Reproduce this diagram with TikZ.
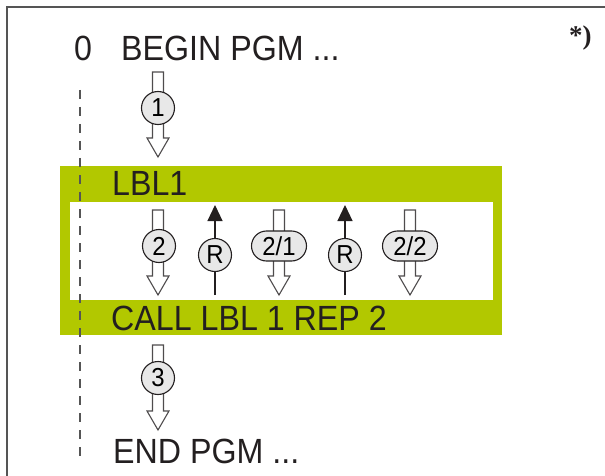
\documentclass[tikz,border=0pt]{standalone}
\usepackage{fontspec}
\setmainfont{Liberation Sans}[FakeStretch=0.92]
\newfontfamily\notefont{Liberation Serif}
\usetikzlibrary{arrows.meta,positioning,calc,shapes.misc}
\definecolor{lblgreen}{RGB}{178,200,0}
\definecolor{inkcolor}{RGB}{35,31,32}
\definecolor{framecolor}{RGB}{85,85,85}
\definecolor{bubblecolor}{RGB}{232,232,232}

\tikzset{
  blocktext/.style={anchor=base west,inner sep=0pt,text=inkcolor,font=\fontsize{35}{35}\selectfont},
  stepnum/.style={circle,draw=inkcolor,fill=bubblecolor,line width=1.1pt,minimum size=33pt,inner sep=0pt,font=\fontsize{26}{26}\selectfont},
  passnum/.style={rounded rectangle,draw=inkcolor,fill=bubblecolor,line width=1.1pt,minimum width=55pt,minimum height=30pt,inner sep=0pt,font=\fontsize{26}{26}\selectfont},
  hollow/.style={draw=inkcolor!80,fill=white,line width=1.1pt,line join=miter},
  jumpline/.style={draw=inkcolor,line width=1.1pt,-{Triangle[length=16pt,width=15pt]}},
}

% hollow block arrow from top coordinate #1 down to tip #2
\newcommand{\flowarrow}[2]{%
  \draw[hollow] ($(#1)+(-5.5,0)$) -- ($(#2)+(-5.5,-19)$) -- ($(#2)+(-11,-19)$)
    -- (#2) -- ($(#2)+(11,-19)$) -- ($(#2)+(5.5,-19)$) -- ($(#1)+(5.5,0)$) -- cycle;}

\begin{document}
\begin{tikzpicture}[x=1pt,y=-1pt]
  \useasboundingbox (0,0) rectangle (605,476);
  \draw[framecolor,line width=2pt] (7,476) -- (7,7) -- (605,7);
  \node[anchor=base west,inner sep=0pt,text=inkcolor,font=\notefont\bfseries\fontsize{27}{27}\selectfont] (note) at (569,45) {*)};

  % repeated label block
  \fill[lblgreen] (60,166) rectangle (502,335);
  \fill[white] (70,201.5) rectangle (492.5,300);
  \draw[framecolor,line width=1.3pt,dash pattern=on 9pt off 8pt] (80,90) -- (80,462);

  \node[blocktext] (zero) at (74,61) {0};
  \node[blocktext] (begin) at (121,61) {BEGIN PGM ...};
  \node[blocktext] (lbl) at (112,195) {LBL1};
  \node[blocktext] (call) at (111,330) {CALL LBL 1 REP 2};
  \node[blocktext] (end) at (113,463) {END PGM ...};

  % step 1
  \coordinate (s1) at (158,72);
  \coordinate (t1) at (158,157);
  \flowarrow{s1}{t1}
  \node[stepnum] (n1) at (158,108) {1};

  % passes inside the block
  \foreach \x/\name in {158/a,279/b,410/c} {
    \coordinate (\name top) at (\x,210);
    \coordinate (\name tip) at (\x,295);
    \flowarrow{\name top}{\name tip}
  }
  \node[stepnum] (n2) at (159,246) {2};
  \node[passnum] (n21) at (279,246) {2/1};
  \node[passnum] (n22) at (410,246) {2/2};

  \foreach \x/\name in {215/r1,345/r2} {
    \coordinate (\name bot) at (\x,295);
    \coordinate (\name top) at (\x,205);
    \draw[jumpline] (\name bot) -- (\name top);
    \node[stepnum] (\name) at (\x,255) {R};
  }

  % step 3
  \coordinate (s3) at (158,345);
  \coordinate (t3) at (158,430);
  \flowarrow{s3}{t3}
  \node[stepnum] (n3) at (158,378) {3};
\end{tikzpicture}
\end{document}
